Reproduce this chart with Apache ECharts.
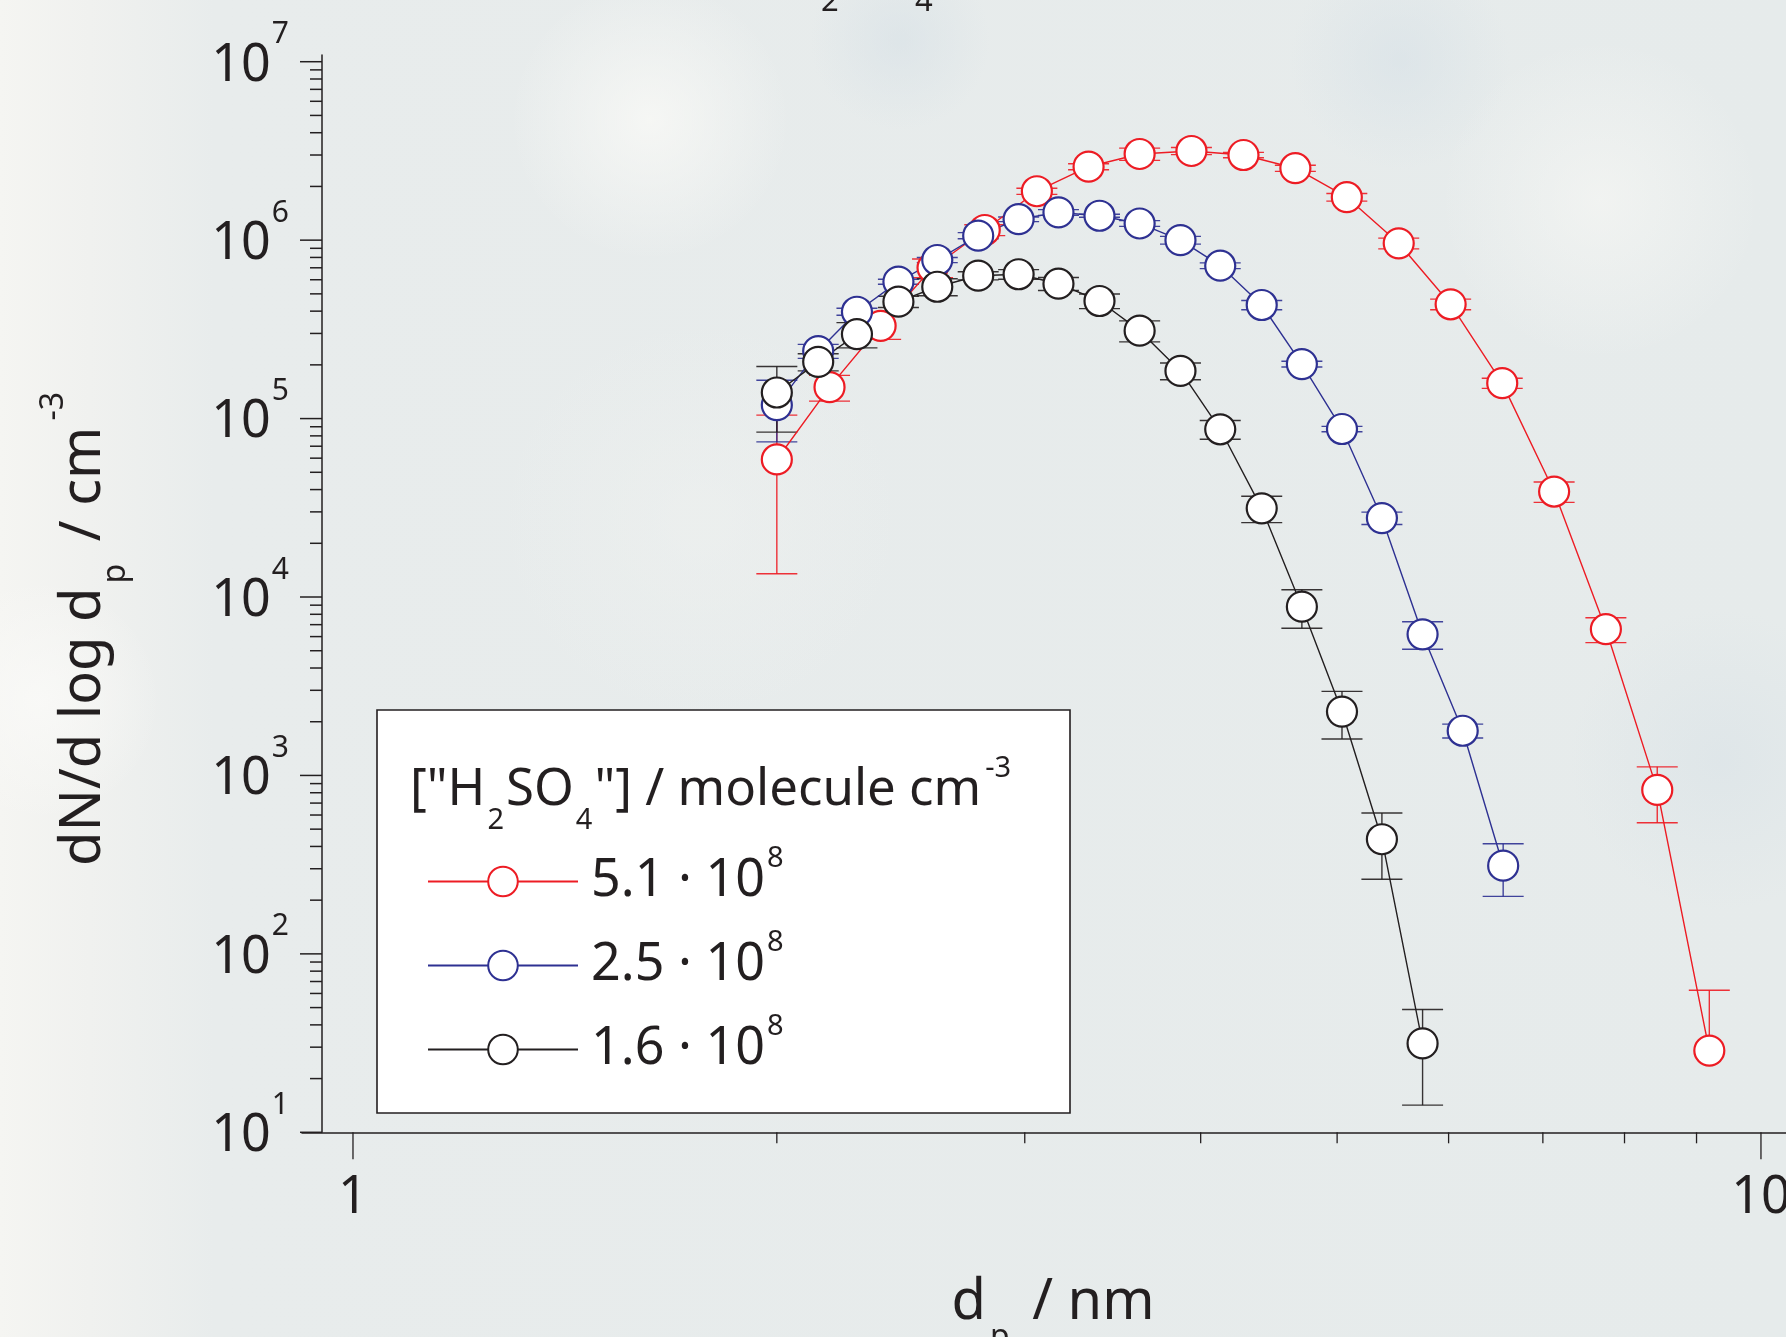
<!DOCTYPE html>
<html>
<head>
<meta charset="utf-8">
<script src="https://cdn.jsdelivr.net/npm/echarts@6/dist/echarts.min.js"></script>
<style>
  html, body { margin: 0; padding: 0; background: #e7ebeb; overflow: hidden; }
  #main { width: 1786px; height: 1337px; }
</style>
</head>
<body>
<div id="main"></div>
<script>
// Particle number size distributions dN/dlogdp for three H2SO4 concentrations
const FONT = '"Noto Sans", "Open Sans", sans-serif';
const INK = '#231f20';

// legend labels (concentration mantissa, x 10^8 molecule cm^-3)
const concLabels = ['5.1', '2.5', '1.6'];
const seriesColors = ['#ed1c24', '#2e3192', '#231f20'];

// mobility diameter / nm
const dpRed = [2.00, 2.18, 2.37, 2.58, 2.81, 3.06, 3.33, 3.62, 3.94, 4.29, 4.67, 5.08, 5.53, 6.02, 6.55, 7.13, 7.76, 8.44, 9.19];
const dpBlueBlack = [2.00, 2.14, 2.28, 2.44, 2.60, 2.78, 2.97, 3.17, 3.39, 3.62, 3.87, 4.13, 4.42, 4.72, 5.04, 5.38, 5.75, 6.14, 6.56];

// dN/dlogdp / cm^-3
const nRed = [5.9e4, 1.50e5, 3.31e5, 7.0e5, 1.14e6, 1.88e6, 2.58e6, 3.04e6, 3.16e6, 3.00e6, 2.53e6, 1.74e6, 9.6e5, 4.37e5, 1.58e5, 3.9e4, 6.6e3, 830, 28.7];
const nBlue = [1.19e5, 2.39e5, 3.97e5, 5.85e5, 7.74e5, 1.06e6, 1.31e6, 1.43e6, 1.37e6, 1.24e6, 1.00e6, 7.19e5, 4.33e5, 2.02e5, 8.74e4, 2.77e4, 6.18e3, 1.78e3, 312];
const nBlack = [1.40e5, 2.08e5, 2.97e5, 4.52e5, 5.48e5, 6.32e5, 6.44e5, 5.70e5, 4.56e5, 3.11e5, 1.85e5, 8.71e4, 3.14e4, 8.83e3, 2.28e3, 439, 31.5];

// one-sigma uncertainty, same units
const errRed = [4.55e4, 2.47e4, 5.3e4, 8.4e4, 8.0e4, 7.5e4, 1.0e5, 2.4e5, 1.45e5, 1.05e5, 1.0e5, 8.5e4, 6.7e4, 3.0e4, 1.04e4, 5.1e3, 1.05e3, 287, 33.8];
const errBlue = [4.5e4, 2.15e4, 1.79e4, 1.93e4, 2.55e4, 4.24e4, 3.93e4, 5.29e4, 2.74e4, 4.59e4, 5.0e4, 2.66e4, 2.6e4, 7.5e3, 3.06e3, 2.2e3, 1.08e3, 160, 102];
const errBlack = [5.6e4, 2.3e4, 4.8e4, 3.3e4, 6.0e4, 3.3e4, 4.0e4, 4.8e4, 4.3e4, 4.2e4, 2.0e4, 1.05e4, 5.3e3, 2.15e3, 680, 177, 17.3];

// axis extents and ticks
const X_MIN = 0.92, X_MAX = 10.418;
const Y_MIN = 10, Y_MAX = 1.0905e7;
const xMajorTicks = [1, 10];
const yMajorExp = [1, 2, 3, 4, 5, 6, 7];
const Y_AXIS_SHIFT = 20; // y axis sits this far right of the grid's left edge

const groups = [
  { dp: dpRed, n: nRed, err: errRed },
  { dp: dpBlueBlack, n: nBlue, err: errBlue },
  { dp: dpBlueBlack.slice(0, nBlack.length), n: nBlack, err: errBlack }
];

function pairs(g) { return g.n.map((v, i) => [g.dp[i], v]); }
function errRows(g) {
  return g.n.map((v, i) => {
    const lo = v - g.err[i];
    return [g.dp[i], v, lo > 0 ? lo : -1, v + g.err[i]];
  });
}

// tick list: [x, y, kind]
const yTickRows = [];
yMajorExp.forEach(e => {
  yTickRows.push([X_MIN, Math.pow(10, e), 1]);
  if (e < 7) for (let m = 2; m <= 9; m++) yTickRows.push([X_MIN, m * Math.pow(10, e), 0]);
});
const xTickRows = [];
xMajorTicks.forEach(v => xTickRows.push([v, Y_MIN, 1]));
for (let m = 2; m <= 9; m++) xTickRows.push([m, Y_MIN, 0]);

const R = 15, CAP = 20.5;

function makeErrRenderer(color) {
  return function (params, api) {
    const x = api.value(0), y = api.value(1), lo = api.value(2), hi = api.value(3);
    const c = api.coord([x, y]);
    const st = { stroke: color, lineWidth: 1.4, opacity: 0.9 };
    const kids = [];
    const ty = api.coord([x, hi])[1];
    kids.push({ type: 'line', shape: { x1: c[0] - CAP, y1: ty, x2: c[0] + CAP, y2: ty }, style: st });
    if (c[1] - ty > R) kids.push({ type: 'line', shape: { x1: c[0], y1: ty, x2: c[0], y2: c[1] - R }, style: st });
    else kids.push({ type: 'line', shape: { x1: c[0], y1: c[1] - R, x2: c[0], y2: c[1] }, style: st });
    if (lo > 0) {
      const by = api.coord([x, lo])[1];
      kids.push({ type: 'line', shape: { x1: c[0] - CAP, y1: by, x2: c[0] + CAP, y2: by }, style: st });
      if (by - c[1] > R) kids.push({ type: 'line', shape: { x1: c[0], y1: c[1] + R, x2: c[0], y2: by }, style: st });
      else kids.push({ type: 'line', shape: { x1: c[0], y1: c[1], x2: c[0], y2: c[1] + R }, style: st });
    }
    return { type: 'group', children: kids };
  };
}

const series = [];
groups.forEach((g, i) => {
  series.push({
    name: concLabels[i],
    type: 'line',
    data: pairs(g),
    symbol: 'circle',
    symbolSize: 30,
    showSymbol: true,
    lineStyle: { color: seriesColors[i], width: 1.4 },
    itemStyle: { color: '#ffffff', borderColor: seriesColors[i], borderWidth: 2.2 },
    emphasis: { disabled: true },
    animation: false,
    z: 2
  });
  series.push({
    name: 'err' + i,
    type: 'custom',
    data: errRows(g),
    encode: { x: 0, y: 1 },
    renderItem: makeErrRenderer(seriesColors[i]),
    clip: false,
    animation: false,
    z: 2
  });
});

// axis ticks (outward, with decade minors)
series.push({
  name: 'yticks', type: 'custom', data: yTickRows, encode: { x: 0, y: 1 }, clip: false, silent: true, z: 5,
  renderItem: function (params, api) {
    const p = api.coord([api.value(0), api.value(1)]);
    const x0 = p[0] + Y_AXIS_SHIFT;
    const len = api.value(2) ? 22 : 12;
    return { type: 'line', shape: { x1: x0 - len, y1: p[1], x2: x0, y2: p[1] }, style: { stroke: INK, lineWidth: 1.5 } };
  }
});
series.push({
  name: 'xticks', type: 'custom', data: xTickRows, encode: { x: 0, y: 1 }, clip: false, silent: true, z: 5,
  renderItem: function (params, api) {
    const p = api.coord([api.value(0), api.value(1)]);
    const len = api.value(2) ? 27 : 11;
    return { type: 'line', shape: { x1: p[0], y1: p[1], x2: p[0], y2: p[1] + len }, style: { stroke: INK, lineWidth: 1.3 } };
  }
});

function cloud(cx, cy, rx, ry, color) {
  return {
    type: 'ellipse', silent: true, z: -10,
    shape: { cx: cx, cy: cy, rx: rx, ry: ry },
    style: {
      fill: { type: 'radial', x: 0.5, y: 0.5, r: 0.5, colorStops: [{ offset: 0, color: color }, { offset: 1, color: color.replace(/[\d.]+\)$/, '0)') }] }
    }
  };
}

const chart = echarts.init(document.getElementById('main'), null, { renderer: 'canvas' });
chart.setOption({
  animation: false,
  backgroundColor: {
    type: 'linear', x: 0, y: 0, x2: 1, y2: 0,
    colorStops: [
      { offset: 0, color: '#f5f5f2' },
      { offset: 0.05, color: '#f0f1ef' },
      { offset: 0.12, color: '#e8ecec' },
      { offset: 1, color: '#e6ebeb' }
    ]
  },
  grid: { left: 302, right: 0, top: 55, bottom: 204.7, containLabel: false, outerBoundsMode: 'none' },
  xAxis: {
    type: 'log', logBase: 10, min: X_MIN, max: X_MAX, splitNumber: 1,
    axisLine: { show: true, lineStyle: { color: INK, width: 1.5 } },
    axisTick: { show: false },
    splitLine: { show: false },
    axisLabel: {
      margin: 40, fontFamily: FONT, fontSize: 52, color: INK,
      formatter: v => (Math.abs(v - 1) < 1e-6 ? '1' : Math.abs(v - 10) < 1e-6 ? '10' : '')
    },
    name: '{i|d}{sub|p}{i| / nm}',
    nameLocation: 'middle', nameGap: 171,
    nameTextStyle: {
      fontFamily: FONT, color: INK, verticalAlign: 'middle', padding: [0, 0, 0, 18],
      rich: {
        i: { fontFamily: FONT, fontSize: 56, color: INK, lineHeight: 56, verticalAlign: 'middle' },
        sub: { fontFamily: FONT, fontSize: 32, color: INK, lineHeight: 32, verticalAlign: 'middle', padding: [70, 8, 0, 4] }
      }
    }
  },
  yAxis: {
    type: 'log', logBase: 10, min: Y_MIN, max: Y_MAX, splitNumber: 6, offset: -Y_AXIS_SHIFT,
    axisLine: { show: true, lineStyle: { color: INK, width: 1.5 } },
    axisTick: { show: false },
    splitLine: { show: false },
    axisLabel: {
      margin: 33, color: INK, fontFamily: FONT,
      formatter: function (v) {
        const e = Math.log10(v), r = Math.round(e);
        if (Math.abs(e - r) > 1e-6) return '';
        return '{b|10}{s|' + r + '}';
      },
      rich: {
        b: { fontFamily: FONT, fontSize: 52, color: INK, lineHeight: 56, verticalAlign: 'middle', padding: [8, 0, 0, 0] },
        s: { fontFamily: FONT, fontSize: 30, color: INK, lineHeight: 30, verticalAlign: 'middle', padding: [0, 0, 54, 1] }
      }
    }
  },
  legend: {
    data: concLabels,
    orient: 'vertical',
    left: 427, top: 844, padding: 0,
    itemWidth: 150, itemHeight: 37, itemGap: 9,
    selectedMode: false,
    formatter: n => '{m|' + n + ' \u00b7 10}{s|8}',
    textStyle: {
      color: INK, fontFamily: FONT, padding: [0, 0, 0, 8],
      rich: {
        m: { fontFamily: FONT, fontSize: 52, color: INK, lineHeight: 52, verticalAlign: 'middle' },
        s: { fontFamily: FONT, fontSize: 29, color: INK, lineHeight: 29, verticalAlign: 'middle', padding: [0, 0, 46, 2] }
      }
    }
  },
  graphic: [
    cloud(650, 120, 320, 140, 'rgba(250,250,247,0.75)'),
    cloud(1600, 200, 260, 160, 'rgba(248,248,245,0.6)'),
    cloud(900, 40, 240, 90, 'rgba(214,224,230,0.55)'),
    cloud(1400, 60, 300, 110, 'rgba(212,223,230,0.5)'),
    cloud(1720, 760, 150, 260, 'rgba(214,224,230,0.45)'),
    cloud(700, 520, 300, 200, 'rgba(240,242,240,0.5)'),
    cloud(40, 700, 120, 700, 'rgba(250,250,248,0.8)'),
    // legend frame and heading
    {
      type: 'rect', z: 3, silent: true,
      shape: { x: 377, y: 710, width: 693, height: 403 },
      style: { fill: '#ffffff', stroke: INK, lineWidth: 1.6 }
    },
    {
      type: 'text', z: 5, silent: true, x: 410, y: 790,
      style: {
        text: '{m|["H}{sub|2}{m|SO}{sub|4}{m|"] / molecule cm}{sup|-3}',
        fill: INK, verticalAlign: 'middle',
        rich: {
          m: { fontFamily: FONT, fontSize: 51, fill: INK, lineHeight: 56, verticalAlign: 'middle' },
          sub: { fontFamily: FONT, fontSize: 29, fill: INK, lineHeight: 29, verticalAlign: 'middle', padding: [62, 2, 0, 2] },
          sup: { fontFamily: FONT, fontSize: 29, fill: INK, lineHeight: 29, verticalAlign: 'middle', padding: [0, 0, 42, 4] }
        }
      }
    },
    // y axis title
    {
      type: 'text', z: 5, silent: true, x: 84, y: 629, rotation: Math.PI / 2,
      style: {
        text: '{m|dN/d log d}{sub|p}{m| / cm}{sup|-3}',
        align: 'center', verticalAlign: 'middle', fill: INK,
        rich: {
          m: { fontFamily: FONT, fontSize: 56, fill: INK, lineHeight: 56, verticalAlign: 'middle' },
          sub: { fontFamily: FONT, fontSize: 32, fill: INK, lineHeight: 32, verticalAlign: 'middle', padding: [64, 8, 0, 4] },
          sup: { fontFamily: FONT, fontSize: 32, fill: INK, lineHeight: 32, verticalAlign: 'middle', padding: [0, 0, 60, 6] }
        }
      }
    },
    // subscripts of the heading above the plot
    { type: 'text', z: 5, silent: true, x: 821, y: 18, style: { text: '2', font: '31px ' + FONT, fill: INK, verticalAlign: 'bottom' } },
    { type: 'text', z: 5, silent: true, x: 915, y: 18, style: { text: '4', font: '31px ' + FONT, fill: INK, verticalAlign: 'bottom' } }
  ],
  series: series
});
</script>
</body>
</html>
